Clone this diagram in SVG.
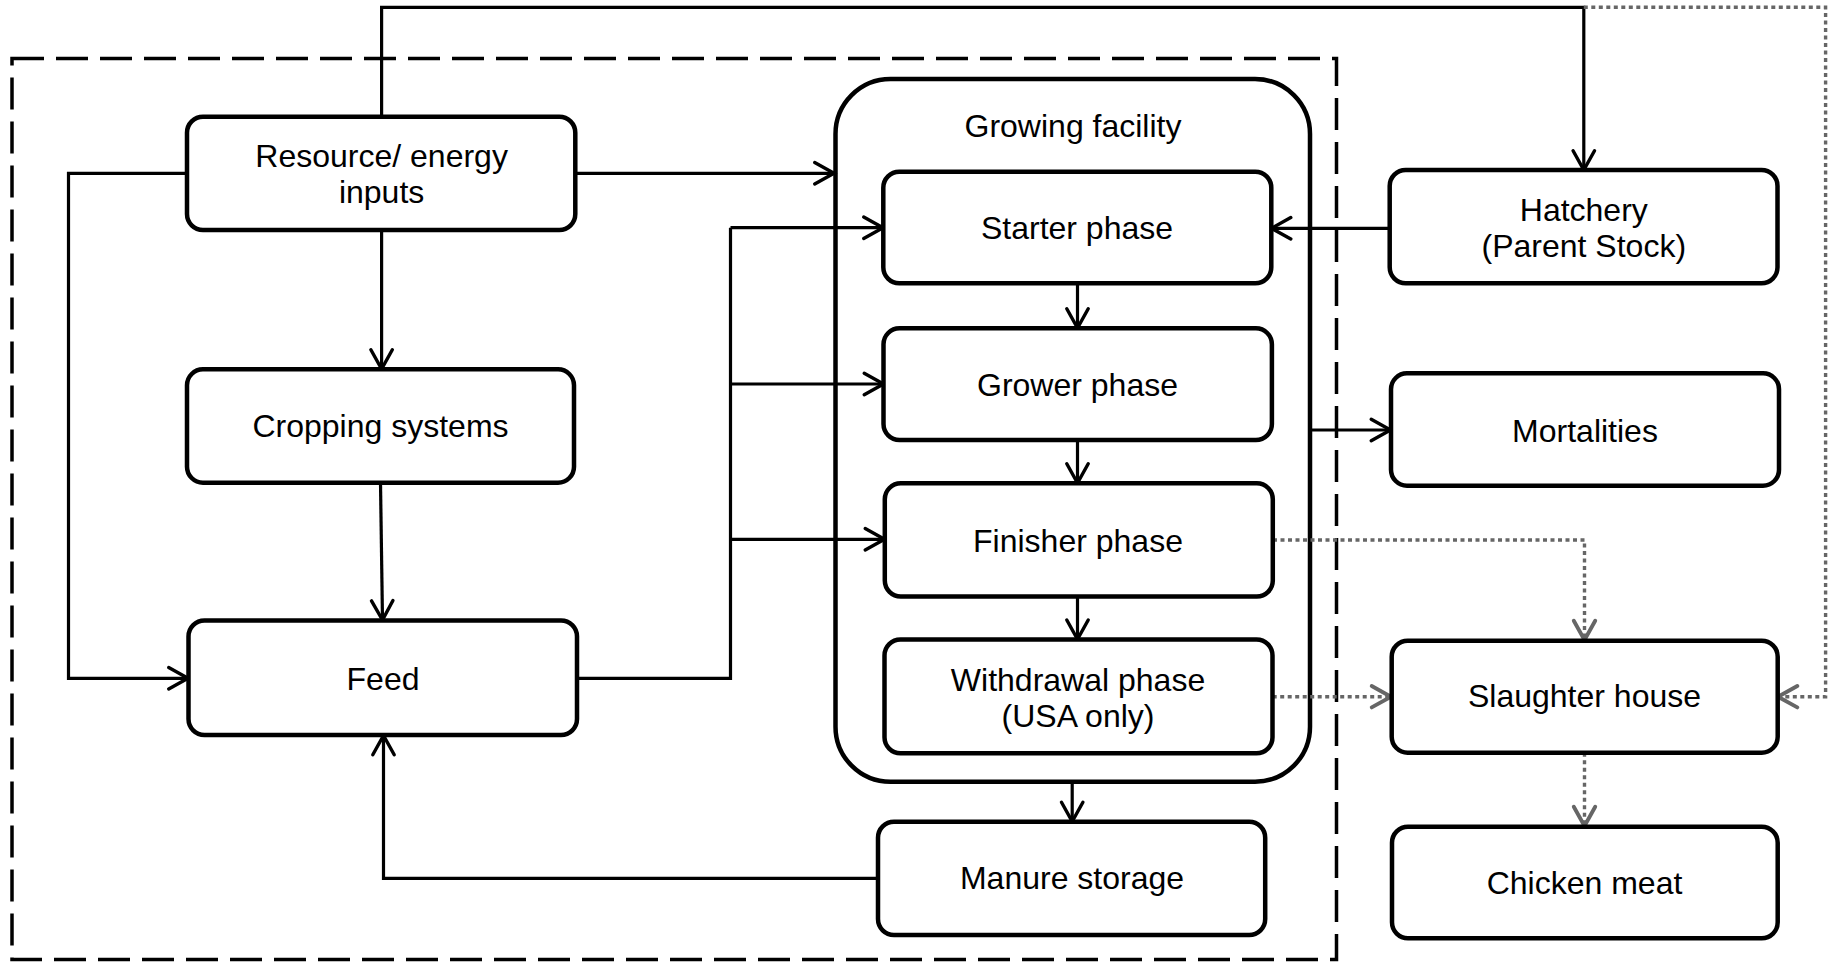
<svg xmlns="http://www.w3.org/2000/svg" width="1831" height="962" viewBox="0 0 1831 962">
  <defs>
    <marker id="arrow" markerUnits="userSpaceOnUse" markerWidth="30" markerHeight="30" viewBox="-22 -14 26 28" refX="0" refY="0" orient="auto">
      <path d="M-18,-10 L0,0 L-18,10" fill="none" stroke="#000" stroke-width="3.2" stroke-linecap="round" stroke-linejoin="miter"/>
    </marker>
    <marker id="arrow-grey" markerUnits="userSpaceOnUse" markerWidth="30" markerHeight="30" viewBox="-22 -14 26 28" refX="0" refY="0" orient="auto">
      <path d="M-18,-10 L0,0 L-18,10" fill="none" stroke="#666" stroke-width="3.6" stroke-linecap="round" stroke-linejoin="miter"/>
    </marker>
  </defs>
  <style>
    .box { fill: #fff; stroke: #000; stroke-width: 4.5; }
    .label { font-family: "Liberation Sans", Arial, sans-serif; font-size: 32px; fill: #000; text-anchor: middle; }
    .flow { fill: none; stroke: #000; stroke-width: 3.2; marker-end: url(#arrow); }
    .plain { fill: none; stroke: #000; stroke-width: 3.2; }
    .dotted-arrow { fill: none; stroke: #666; stroke-width: 3.4; stroke-dasharray: 4 3.5; marker-end: url(#arrow-grey); }
    .boundary { fill: none; stroke: #000; stroke-width: 3.5; stroke-dasharray: 32 12; }
  </style>
  <rect width="1831" height="962" fill="#fff"/>

  <!-- system boundary -->
  <rect id="system-boundary" class="boundary" x="12" y="58.5" width="1324.5" height="901"/>

  <!-- growing facility container -->
  <g id="growing-facility">
    <rect class="box" x="835.5" y="79" width="474.5" height="702.7" rx="55" ry="55"/>
    <text class="label" x="1073" y="137">Growing facility</text>
  </g>

  <!-- connectors -->
  <g id="connectors">
    <path class="flow" d="M381.6,116.7 V7.3 H1583.8 V170"/>
    <path class="flow" d="M575,173.3 H834"/>
    <path class="flow" d="M381.6,230 V369"/>
    <path class="flow" d="M187,173.3 H68.5 V678.3 H188"/>
    <path class="flow" d="M380.5,482.7 L382.5,620"/>
    <path class="plain" d="M577,678.3 H730.5 V227.7"/>
    <path class="flow" d="M730.5,227.7 H883"/>
    <path class="flow" d="M730.5,384 H883.5"/>
    <path class="flow" d="M730.5,539.3 H884.5"/>
    <path class="flow" d="M1077.5,283.3 V328"/>
    <path class="flow" d="M1077.5,440 V483"/>
    <path class="flow" d="M1077.5,596.7 V639.3"/>
    <path class="flow" d="M1389.7,228.3 H1271.5"/>
    <path class="flow" d="M1310,430 H1390.5"/>
    <path class="flow" d="M1072.2,781.7 V821.5"/>
    <path class="flow" d="M878,878.3 H383.5 V735.5"/>
    <path class="dotted-arrow" d="M1273,540 H1584.5 V640"/>
    <path class="dotted-arrow" d="M1272.7,696.7 H1391"/>
    <path class="dotted-arrow" d="M1583.8,7.3 H1825.6 V696.7 H1778"/>
    <path class="dotted-arrow" d="M1584.5,752.7 V826"/>
  </g>

  <!-- nodes -->
  <g id="resource-inputs">
    <rect class="box" x="187" y="116.7" width="388.3" height="113.3" rx="16"/>
    <text class="label" x="381.6" y="167">Resource/ energy</text>
    <text class="label" x="381.6" y="202.5">inputs</text>
  </g>
  <g id="cropping-systems">
    <rect class="box" x="187" y="369.3" width="387" height="113.4" rx="16"/>
    <text class="label" x="380.5" y="437">Cropping systems</text>
  </g>
  <g id="feed">
    <rect class="box" x="188.5" y="620.5" width="388.5" height="114.5" rx="16"/>
    <text class="label" x="383" y="689.5">Feed</text>
  </g>
  <g id="starter-phase">
    <rect class="box" x="883.3" y="171.7" width="388" height="111.6" rx="16"/>
    <text class="label" x="1077" y="238.5">Starter phase</text>
  </g>
  <g id="grower-phase">
    <rect class="box" x="883.5" y="328.3" width="388.4" height="111.7" rx="16"/>
    <text class="label" x="1077.5" y="395.5">Grower phase</text>
  </g>
  <g id="finisher-phase">
    <rect class="box" x="884.8" y="483.3" width="388" height="113.3" rx="16"/>
    <text class="label" x="1078" y="552">Finisher phase</text>
  </g>
  <g id="withdrawal-phase">
    <rect class="box" x="884.5" y="639.5" width="388" height="113.8" rx="16"/>
    <text class="label" x="1078" y="690.5">Withdrawal phase</text>
    <text class="label" x="1078" y="727">(USA only)</text>
  </g>
  <g id="manure-storage">
    <rect class="box" x="878" y="821.7" width="387.2" height="113.3" rx="16"/>
    <text class="label" x="1072" y="888.5">Manure storage</text>
  </g>
  <g id="hatchery">
    <rect class="box" x="1389.7" y="170" width="387.8" height="113.3" rx="16"/>
    <text class="label" x="1583.8" y="220.5">Hatchery</text>
    <text class="label" x="1583.8" y="257">(Parent Stock)</text>
  </g>
  <g id="mortalities">
    <rect class="box" x="1391" y="373.3" width="388" height="112.4" rx="16"/>
    <text class="label" x="1585" y="442">Mortalities</text>
  </g>
  <g id="slaughter-house">
    <rect class="box" x="1391.7" y="640.7" width="386" height="112" rx="16"/>
    <text class="label" x="1584.5" y="707">Slaughter house</text>
  </g>
  <g id="chicken-meat">
    <rect class="box" x="1392" y="826.7" width="385.7" height="111.6" rx="16"/>
    <text class="label" x="1584.5" y="893.5">Chicken meat</text>
  </g>
</svg>
